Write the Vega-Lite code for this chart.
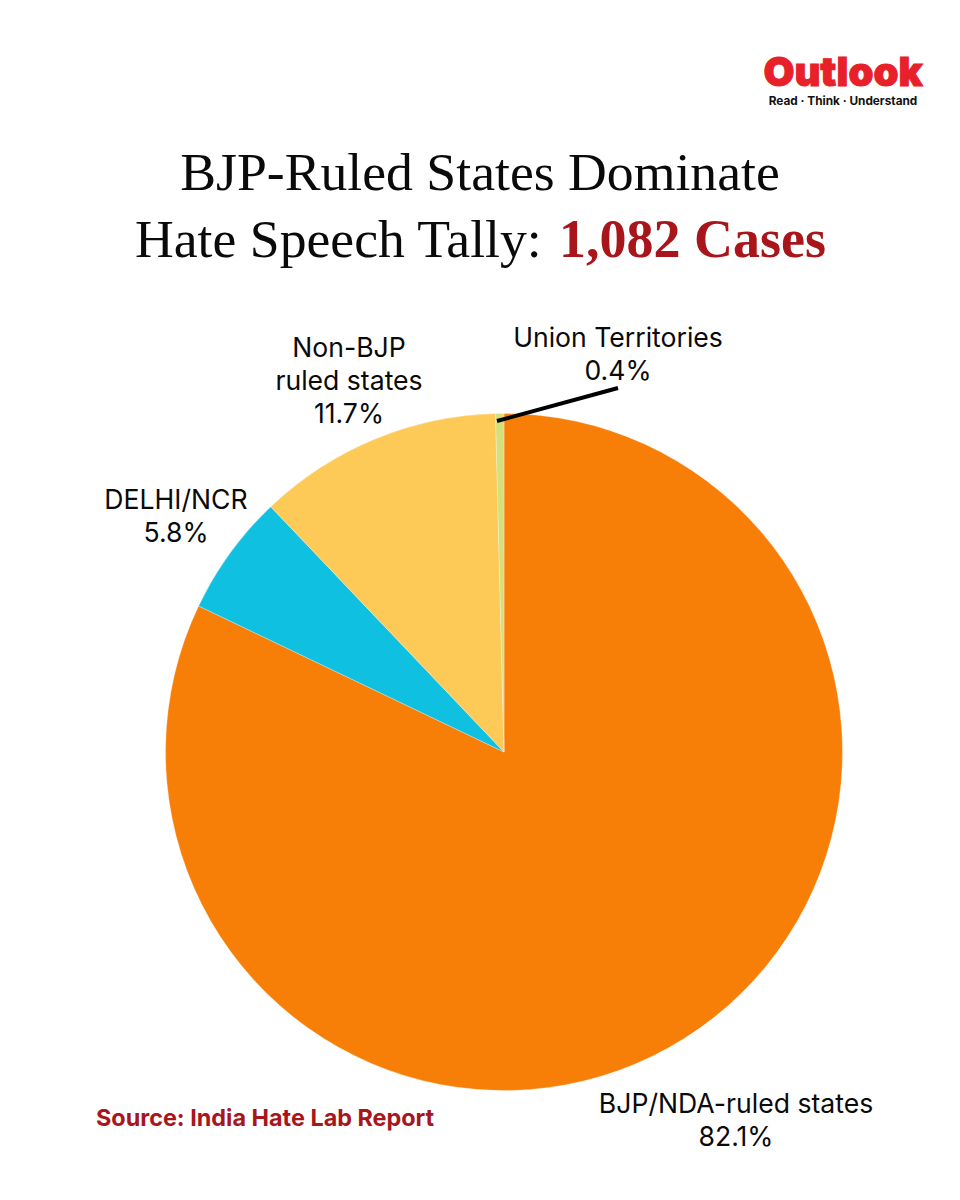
{
  "$schema": "https://vega.github.io/schema/vega-lite/v6.json",
  "autosize": {"type": "fit", "contains": "padding"},
  "width": 960,
  "height": 1200,
  "padding": 0,
  "background": "white",
  "config": {"view": {"stroke": null}},
  "datasets": {
    "shares": [
      {"name": "BJP/NDA-ruled states", "share": 82.1, "rank": 1, "label": "BJP/NDA-ruled states\n82.1%"},
      {"name": "DELHI/NCR", "share": 5.8, "rank": 2, "label": "DELHI/NCR\n5.8%"},
      {"name": "Non-BJP ruled states", "share": 11.7, "rank": 3, "label": "Non-BJP\nruled states\n11.7%"},
      {"name": "Union Territories", "share": 0.4, "rank": 4, "label": "Union Territories\n0.4%"}
    ],
    "texts": [
      {"id": "title1", "text": "BJP-Ruled States Dominate"},
      {"id": "title2", "text": "Hate Speech Tally:"},
      {"id": "title3", "text": "1,082 Cases"},
      {"id": "source", "text": "Source: India Hate Lab Report"},
      {"id": "logo", "text": "Outlook"},
      {"id": "tagline", "text": "Read · Think · Understand"}
    ]
  },
  "layer": [
    {
      "data": {"name": "shares"},
      "mark": {"type": "arc", "outerRadius": 338.5, "stroke": "white", "strokeWidth": 0.3},
      "encoding": {
        "x": {"value": 504},
        "y": {"value": 752},
        "theta": {"field": "share", "type": "quantitative", "stack": true, "scale": {"domain": [0, 100]}},
        "order": {"field": "rank", "type": "ordinal"},
        "color": {
          "field": "name",
          "type": "nominal",
          "legend": null,
          "scale": {
            "domain": ["BJP/NDA-ruled states", "DELHI/NCR", "Non-BJP ruled states", "Union Territories"],
            "range": ["#F77F07", "#0FC0E0", "#FDC957", "#D6E07A"]
          }
        }
      }
    },
    {
      "data": {"values": [{"a": 1}]},
      "mark": {"type": "rule", "color": "black", "strokeWidth": 4},
      "encoding": {
        "x": {"value": 497},
        "y": {"value": 421},
        "x2": {"value": 618},
        "y2": {"value": 388}
      }
    },
    {
      "data": {"name": "shares"},
      "transform": [{"filter": "datum.rank == 1"}],
      "mark": {"type": "text", "font": "Inter", "fontSize": 26.6, "align": "center", "baseline": "alphabetic", "lineBreak": "\n", "lineHeight": 33, "color": "#0a0a0a"},
      "encoding": {"x": {"value": 736}, "y": {"value": 1113}, "text": {"field": "label"}}
    },
    {
      "data": {"name": "shares"},
      "transform": [{"filter": "datum.rank == 2"}],
      "mark": {"type": "text", "font": "Inter", "fontSize": 26.6, "align": "center", "baseline": "alphabetic", "lineBreak": "\n", "lineHeight": 33, "color": "#0a0a0a"},
      "encoding": {"x": {"value": 176}, "y": {"value": 509}, "text": {"field": "label"}}
    },
    {
      "data": {"name": "shares"},
      "transform": [{"filter": "datum.rank == 3"}],
      "mark": {"type": "text", "font": "Inter", "fontSize": 26.6, "align": "center", "baseline": "alphabetic", "lineBreak": "\n", "lineHeight": 33, "color": "#0a0a0a"},
      "encoding": {"x": {"value": 349}, "y": {"value": 357}, "text": {"field": "label"}}
    },
    {
      "data": {"name": "shares"},
      "transform": [{"filter": "datum.rank == 4"}],
      "mark": {"type": "text", "font": "Inter", "fontSize": 26.6, "align": "center", "baseline": "alphabetic", "lineBreak": "\n", "lineHeight": 33, "color": "#0a0a0a"},
      "encoding": {"x": {"value": 618}, "y": {"value": 347}, "text": {"field": "label"}}
    },
    {
      "data": {"name": "texts"},
      "transform": [{"filter": "datum.id == 'title1'"}],
      "mark": {"type": "text", "font": "Liberation Serif", "fontSize": 53.7, "align": "center", "baseline": "alphabetic", "color": "#0a0a0a"},
      "encoding": {"x": {"value": 480}, "y": {"value": 190}, "text": {"field": "text"}}
    },
    {
      "data": {"name": "texts"},
      "transform": [{"filter": "datum.id == 'title2'"}],
      "mark": {"type": "text", "font": "Liberation Serif", "fontSize": 53.7, "align": "left", "baseline": "alphabetic", "color": "#0a0a0a"},
      "encoding": {"x": {"value": 135}, "y": {"value": 257}, "text": {"field": "text"}}
    },
    {
      "data": {"name": "texts"},
      "transform": [{"filter": "datum.id == 'title3'"}],
      "mark": {"type": "text", "font": "Liberation Serif", "fontWeight": "bold", "fontSize": 54, "align": "right", "baseline": "alphabetic", "color": "#A8161C"},
      "encoding": {"x": {"value": 826}, "y": {"value": 257}, "text": {"field": "text"}}
    },
    {
      "data": {"name": "texts"},
      "transform": [{"filter": "datum.id == 'source'"}],
      "mark": {"type": "text", "font": "Inter", "fontWeight": 700, "fontSize": 23.4, "align": "left", "baseline": "alphabetic", "color": "#A8161C"},
      "encoding": {"x": {"value": 96}, "y": {"value": 1126}, "text": {"field": "text"}}
    },
    {
      "data": {"name": "texts"},
      "transform": [{"filter": "datum.id == 'logo'"}],
      "mark": {"type": "text", "font": "Inter", "fontWeight": 900, "fontSize": 40, "align": "center", "baseline": "alphabetic", "color": "#E8202A", "stroke": "#E8202A", "strokeWidth": 1},
      "encoding": {"x": {"value": 843}, "y": {"value": 86}, "text": {"field": "text"}}
    },
    {
      "data": {"name": "texts"},
      "transform": [{"filter": "datum.id == 'tagline'"}],
      "mark": {"type": "text", "font": "Inter", "fontWeight": 700, "fontSize": 11.8, "align": "center", "baseline": "alphabetic", "color": "#111"},
      "encoding": {"x": {"value": 843}, "y": {"value": 105}, "text": {"field": "text"}}
    }
  ]
}
